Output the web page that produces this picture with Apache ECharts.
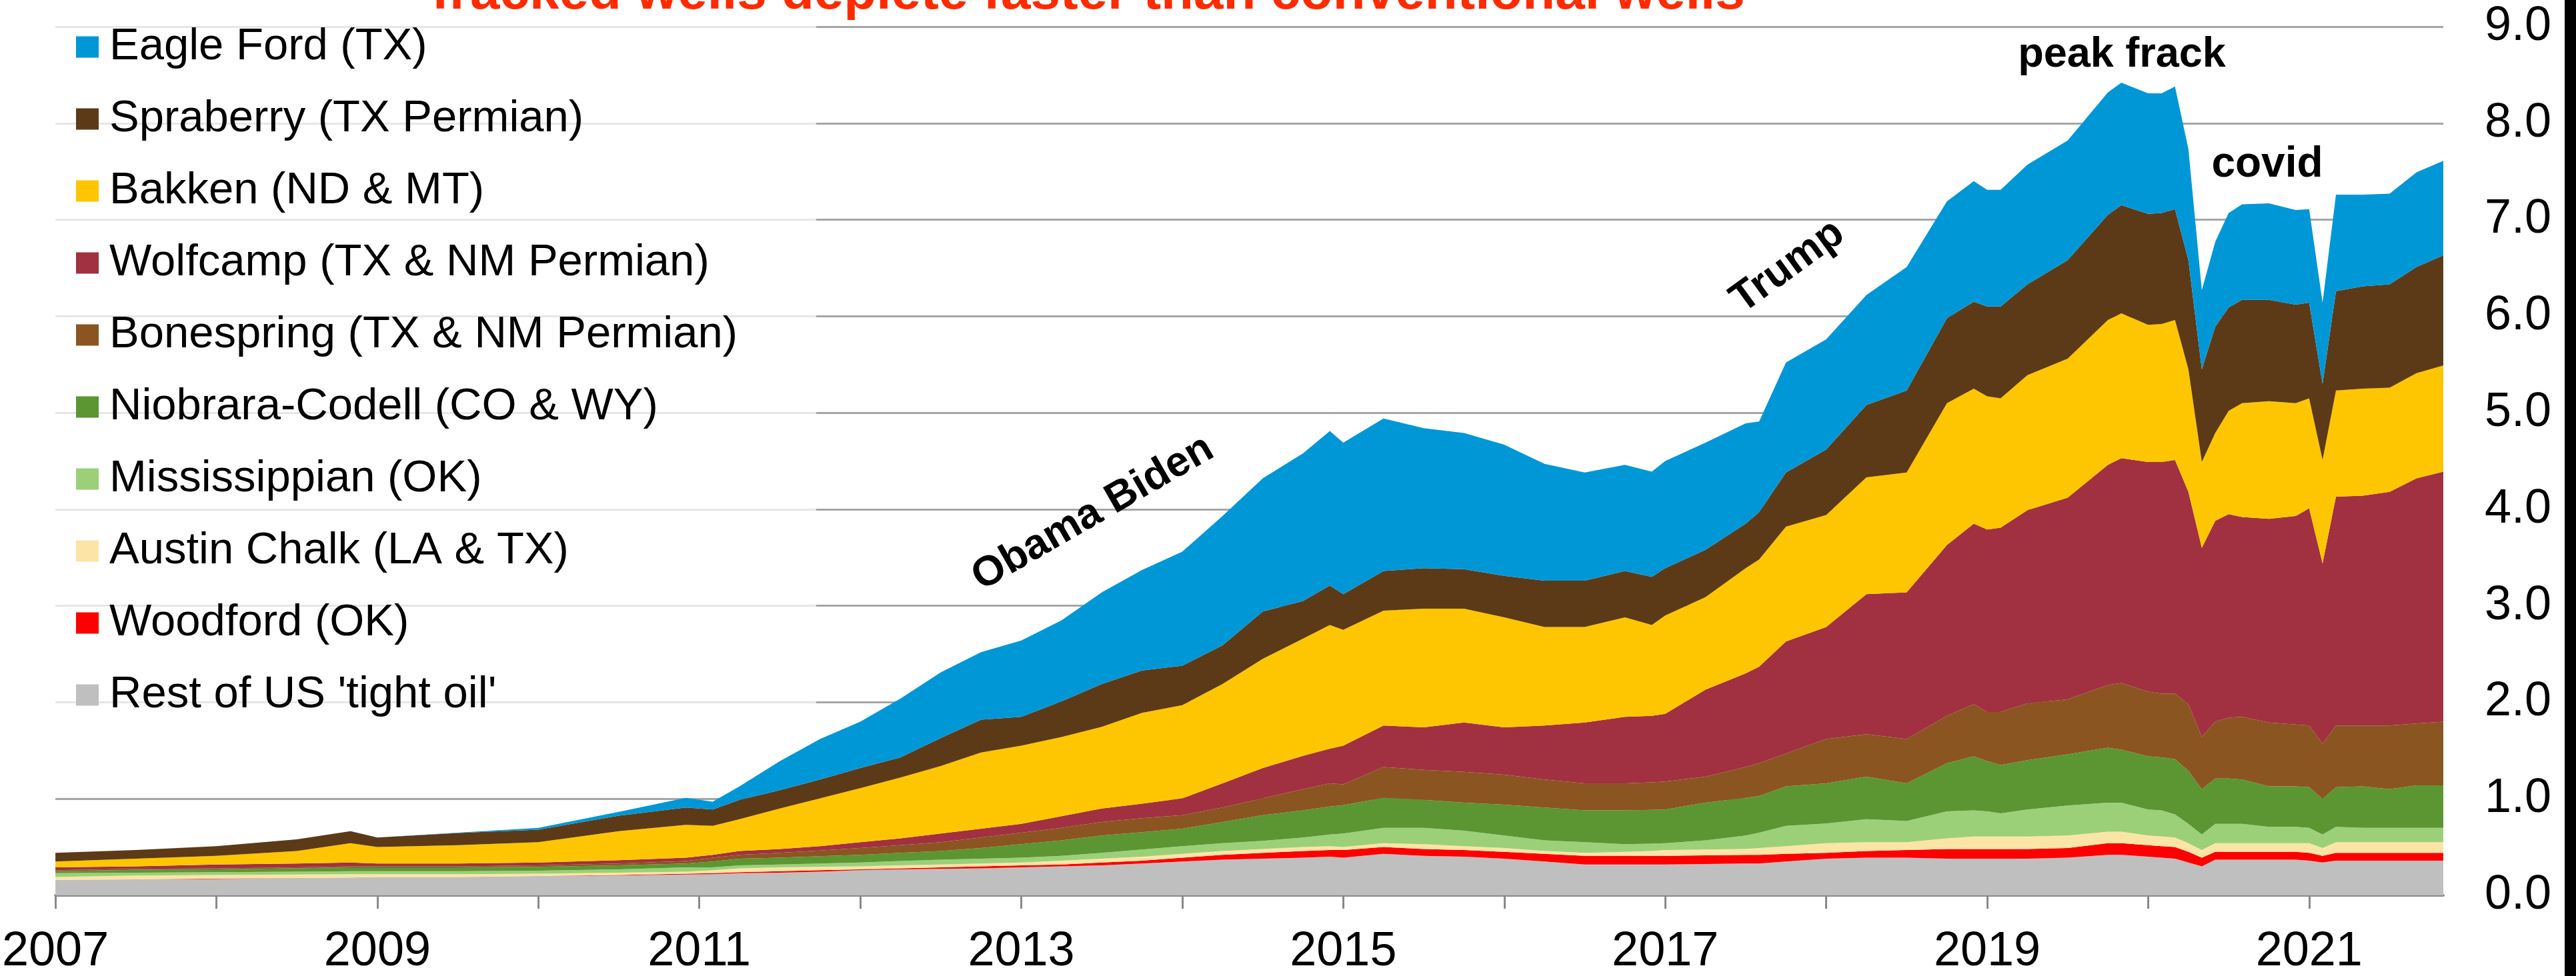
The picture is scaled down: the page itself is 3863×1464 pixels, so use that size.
<!DOCTYPE html>
<html>
<head>
<meta charset="utf-8">
<script src="https://cdn.jsdelivr.net/npm/echarts@6/dist/echarts.min.js"></script>
<style>
  html, body { margin: 0; padding: 0; background: #ffffff; }
  #chart { width: 3863px; height: 1464px; }
</style>
</head>
<body>
<div id="chart"></div>
<script>
// ---------- DATA (million barrels/day) ----------
const dates = ['2007-01','2007-07','2008-01','2008-07','2008-11','2009-01','2009-07','2010-01','2010-07','2010-12',
  '2011-02','2011-04','2011-07','2011-10','2012-01','2012-04','2012-07','2012-10','2013-01','2013-04',
  '2013-07','2013-10','2014-01','2014-04','2014-07','2014-10','2014-12','2015-01','2015-04','2015-07',
  '2015-10','2016-01','2016-04','2016-07','2016-10','2016-12','2017-01','2017-04','2017-07','2017-08','2017-10',
  '2018-01','2018-04','2018-07','2018-10','2018-12','2019-01','2019-02','2019-04','2019-07','2019-10',
  '2019-11','2020-01','2020-02','2020-03','2020-04','2020-05','2020-06','2020-07','2020-08','2020-10',
  '2020-12','2021-01','2021-02','2021-03','2021-05','2021-07','2021-09','2021-11'];

const restOfUS = [.16,.165,.17,.18,.185,.19,.19,.20,.205,.215,
  .22,.23,.235,.245,.26,.27,.275,.28,.29,.30,
  .31,.33,.35,.37,.38,.39,.40,.39,.43,.41,
  .40,.38,.35,.32,.32,.32,.32,.325,.33,.33,.35,
  .38,.39,.39,.38,.38,.38,.38,.38,.39,.42,
  .42,.40,.39,.38,.34,.30,.37,.37,.37,.37,
  .37,.36,.34,.36,.36,.36,.36,.36];
const woodford = [0,0,.005,0,0,0,0,0,.005,.01,
  .01,.01,.015,.015,.01,.01,.015,.02,.02,.02,
  .03,.03,.04,.05,.06,.07,.07,.08,.07,.07,
  .07,.07,.08,.09,.09,.09,.09,.09,.09,.09,.08,
  .06,.07,.08,.10,.10,.10,.10,.10,.10,.12,
  .12,.12,.12,.12,.11,.09,.08,.08,.08,.08,
  .08,.08,.07,.08,.08,.08,.08,.08];
const austinChalk = [.03,.04,.035,.035,.035,.03,.03,.025,.025,.02,
  .03,.04,.04,.035,.03,.03,.03,.03,.03,.04,
  .04,.04,.04,.04,.04,.04,.04,.03,.04,.05,
  .04,.04,.03,.03,.04,.05,.06,.06,.06,.07,.08,
  .10,.09,.08,.11,.13,.13,.13,.13,.13,.12,
  .12,.10,.10,.10,.09,.08,.09,.09,.09,.09,
  .09,.10,.08,.11,.11,.11,.11,.11];
const mississippian = [.04,.03,.03,.03,.03,.03,.03,.03,.035,.045,
  .03,.03,.03,.035,.04,.045,.05,.05,.05,.05,
  .06,.075,.08,.08,.085,.10,.12,.14,.16,.17,
  .16,.13,.11,.11,.08,.075,.07,.095,.14,.16,.21,
  .205,.24,.22,.28,.27,.26,.24,.28,.31,.30,
  .30,.27,.27,.24,.20,.16,.20,.20,.20,.17,
  .17,.16,.14,.16,.15,.15,.15,.15];
const niobrara = [.02,.03,.03,.035,.04,.04,.04,.04,.04,.04,
  .06,.07,.07,.075,.08,.085,.09,.11,.14,.16,
  .18,.18,.18,.22,.265,.28,.29,.295,.31,.29,
  .29,.32,.34,.33,.35,.35,.35,.39,.39,.38,.41,
  .415,.44,.39,.50,.56,.52,.50,.51,.53,.57,
  .55,.55,.55,.57,.55,.47,.47,.47,.46,.42,
  .42,.42,.37,.41,.43,.40,.44,.44];
const bonespring = [.01,.01,.01,.01,.01,.01,.01,.015,.02,.025,
  .04,.04,.05,.06,.07,.08,.09,.11,.12,.13,
  .14,.145,.14,.15,.175,.22,.24,.215,.32,.31,
  .32,.31,.29,.28,.28,.285,.29,.27,.32,.34,.34,
  .46,.44,.46,.49,.54,.51,.55,.59,.57,.65,
  .69,.67,.66,.68,.69,.54,.59,.63,.65,.66,
  .64,.64,.57,.64,.63,.66,.64,.66];
const wolfcamp = [.03,.025,.04,.04,.04,.03,.03,.03,.035,.035,
  .03,.04,.04,.045,.06,.07,.09,.09,.09,.12,
  .14,.15,.175,.25,.315,.345,.36,.40,.43,.44,
  .51,.49,.56,.63,.69,.69,.70,.90,.97,1.00,1.16,
  1.16,1.45,1.52,1.77,1.87,1.89,1.91,2.00,2.09,2.28,
  2.33,2.38,2.40,2.42,2.20,1.96,2.08,2.11,2.07,2.11,
  2.16,2.25,1.87,2.37,2.38,2.42,2.54,2.59];
const bakken = [.06,.08,.09,.13,.20,.17,.19,.21,.30,.34,
  .30,.33,.42,.495,.56,.63,.70,.79,.81,.82,
  .845,.94,.965,1.03,1.13,1.215,1.28,1.20,1.19,1.23,
  1.18,1.14,1.02,.99,1.03,.94,1.02,.96,1.09,1.11,1.19,
  1.16,1.21,1.24,1.47,1.40,1.38,1.34,1.40,1.44,1.50,
  1.50,1.42,1.43,1.45,1.27,.89,.91,1.07,1.18,1.22,
  1.17,1.14,1.07,1.10,1.11,1.08,1.09,1.10];
const spraberry = [.09,.09,.10,.12,.125,.10,.125,.13,.16,.18,
  .17,.20,.19,.195,.21,.21,.29,.34,.30,.37,
  .445,.44,.41,.40,.49,.39,.41,.37,.41,.42,
  .41,.43,.48,.48,.48,.50,.49,.49,.46,.49,.56,
  .68,.75,.85,.88,.90,.93,.95,.94,1.02,1.09,
  1.12,1.15,1.15,1.15,1.13,.96,1.10,1.07,1.07,1.05,
  1.02,.99,.79,1.03,1.06,1.07,1.10,1.14];
const eagleFord = [0,0,0,0,0,0,.005,.02,.04,.10,
  .08,.14,.30,.42,.48,.61,.68,.70,.79,.84,
  .95,1.04,1.18,1.34,1.38,1.53,1.60,1.57,1.58,1.45,
  1.41,1.36,1.21,1.12,1.10,1.09,1.11,1.11,1.04,.94,1.14,
  1.14,1.14,1.28,1.21,1.25,1.21,1.21,1.24,1.24,1.27,
  1.27,1.25,1.24,1.27,1.15,.82,.88,.98,.99,1.00,
  .98,.97,.84,1.00,.95,.94,.98,.98];

const seriesNames = ["Rest of US 'tight oil'", 'Woodford (OK)', 'Austin Chalk (LA & TX)', 'Mississippian (OK)',
  'Niobrara-Codell (CO & WY)', 'Bonespring (TX & NM Permian)', 'Wolfcamp (TX & NM Permian)',
  'Bakken (ND & MT)', 'Spraberry (TX Permian)', 'Eagle Ford (TX)'];
const seriesValues = [restOfUS, woodford, austinChalk, mississippian, niobrara, bonespring, wolfcamp, bakken, spraberry, eagleFord];
const seriesColors = ['#bfbfbf', '#ff0000', '#fbe5a6', '#9bd078', '#5b9632', '#8b5521', '#a13141', '#fec600', '#5d3a17', '#0097d7'];

const xTickYears = [2007,2008,2009,2010,2011,2012,2013,2014,2015,2016,2017,2018,2019,2020,2021];
const xLabelYears = [2007,2009,2011,2013,2015,2017,2019,2021];

const titleText = 'fracked wells deplete faster than conventional wells';
const notes = ['Obama Biden', 'Trump', 'peak frack', 'covid'];

// ---------- CHART ----------
const FONT = "'Liberation Sans', Arial, Helvetica, sans-serif";
const toYear = s => { const p = s.split('-'); return +p[0] + (+p[1] - 1) / 12; };
const xs = dates.map(toYear);

const chart = echarts.init(document.getElementById('chart'), null, { renderer: 'canvas' });

// value first, date second, so that the stack is applied to the value (y) dimension
const series = seriesNames.map((name, i) => ({
  name: name,
  type: 'line',
  stack: 'total',
  symbol: 'none',
  smooth: false,
  color: seriesColors[i],
  lineStyle: { width: 0 },
  areaStyle: { color: seriesColors[i], opacity: 1 },
  emphasis: { disabled: true },
  encode: { x: 1, y: 0 },
  data: xs.map((x, k) => [seriesValues[i][k], x])
}));

chart.setOption({
  animation: false,
  backgroundColor: '#ffffff',
  grid: { left: 26, right: 199, top: 40, bottom: 121, containLabel: false },
  legend: {
    orient: 'vertical',
    left: 28,
    top: 15,
    padding: [22, 118, 30, 86],
    backgroundColor: 'rgba(255,255,255,0.72)',
    icon: 'rect',
    itemWidth: 34,
    itemHeight: 32,
    itemGap: 41,
    data: seriesNames.slice().reverse(),
    textStyle: { fontFamily: FONT, fontSize: 67, lineHeight: 67, color: '#000', padding: [0, 0, 0, 11] },
    selectedMode: false
  },
  xAxis: {
    type: 'value',
    min: 2007,
    max: 2021 + 10 / 12,
    axisLine: { show: true, lineStyle: { color: '#898989', width: 4 } },
    axisTick: { show: true, customValues: xTickYears, length: 20, lineStyle: { color: '#898989', width: 3 } },
    axisLabel: { customValues: xLabelYears, formatter: v => String(Math.round(v)), fontFamily: FONT, fontSize: 72, color: '#000', margin: 49 },
    splitLine: { show: false }
  },
  yAxis: {
    type: 'value',
    position: 'right',
    min: 0,
    max: 9,
    interval: 1,
    axisLine: { show: false },
    axisTick: { show: false },
    axisLabel: { formatter: v => v.toFixed(1), fontFamily: FONT, fontSize: 72, color: '#000', margin: 62 },
    splitLine: { show: true, lineStyle: { color: '#a6a6a6', width: 3 } }
  },
  series: series,
  graphic: [
    { type: 'text', x: 1632, y: -9, z: 100,
      style: { text: titleText, font: 'bold 80px ' + FONT, fill: '#ff2b00', align: 'center', verticalAlign: 'middle' } },
    { type: 'text', x: 1639, y: 770, rotation: 30 * Math.PI / 180, z: 100,
      style: { text: notes[0], font: 'bold 63px ' + FONT, fill: '#000', align: 'center', verticalAlign: 'middle' } },
    { type: 'text', x: 2681, y: 400, rotation: 36 * Math.PI / 180, z: 100,
      style: { text: notes[1], font: 'bold 63px ' + FONT, fill: '#000', align: 'center', verticalAlign: 'middle' } },
    { type: 'text', x: 3182, y: 83, z: 100,
      style: { text: notes[2], font: 'bold 63px ' + FONT, fill: '#000', align: 'center', verticalAlign: 'middle' } },
    { type: 'text', x: 3400, y: 247, z: 100,
      style: { text: notes[3], font: 'bold 64px ' + FONT, fill: '#000', align: 'center', verticalAlign: 'middle' } },
    { type: 'rect', shape: { x: 3846, y: 0, width: 17, height: 1464 }, style: { fill: '#000' }, z: 100 }
  ]
});
</script>
</body>
</html>
